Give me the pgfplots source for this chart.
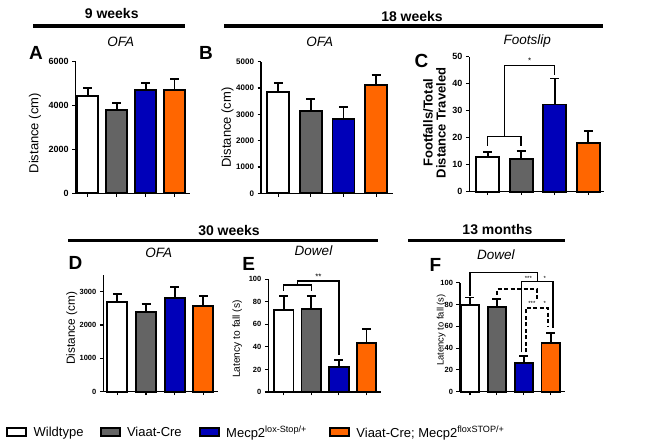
\documentclass[border=0pt]{standalone}
\usepackage{fontspec}
\setmainfont{Liberation Sans}
\usepackage{pgfplots}
\pgfplotsset{compat=1.18}
\definecolor{bgray}{RGB}{100,100,100}
\definecolor{bblue}{RGB}{0,0,185}
\definecolor{borange}{RGB}{255,102,0}
\newcommand{\fs}[1]{\fontsize{#1}{#1}\selectfont}
\pgfplotsset{
 panel/.style={
   scale only axis, ybar, ymin=0,
   axis x line*=bottom, axis y line*=left,
   axis line style={-, line width=1.3pt},
   xtick={0,1,2,3}, xticklabels={},
   tick align=outside, major tick length=3.5pt,
   every tick/.style={black, line width=1.1pt},
   scaled y ticks=false,
   /pgf/number format/assume math mode=true,
   /pgf/number format/1000 sep={},
   clip=false,
 },
 bar/.style={draw=black, line width=1.9pt, bar shift=0pt,
   error bars/y dir=plus, error bars/y explicit,
   error bars/error bar style={line width=1.8pt, black},
   error bars/error mark options={rotate=90, line width=1.8pt, mark size=4.5pt, black}},
}
\begin{document}
\begin{tikzpicture}
\path[use as bounding box] (0pt,0pt) rectangle (670pt,447pt);
% headers
\node[anchor=base, font=\bfseries\fs{14}] at (111.7pt,428.7pt) {9 weeks};
\draw[line width=3.5pt] (33.3pt,421pt) -- (185pt,421pt);
\node[anchor=base, font=\bfseries\fs{14}] at (412pt,425.3pt) {18 weeks};
\draw[line width=3.5pt] (224.3pt,421pt) -- (602.7pt,421pt);
\node[anchor=base, font=\bfseries\fs{14}] at (229pt,211pt) {30 weeks};
\draw[line width=3pt] (68.3pt,206pt) -- (378.3pt,206pt);
\node[anchor=base, font=\bfseries\fs{14}] at (497.5pt,212pt) {13 months};
\draw[line width=3pt] (408.3pt,206.3pt) -- (565pt,206.3pt);
% panel letters
\node[anchor=base, font=\bfseries\fs{19}] at (36pt,387pt) {A};
\node[anchor=base, font=\bfseries\fs{19}] at (206pt,387pt) {B};
\node[anchor=base, font=\bfseries\fs{19}] at (421.5pt,379pt) {C};
\node[anchor=base, font=\bfseries\fs{19}] at (75.5pt,177pt) {D};
\node[anchor=base, font=\bfseries\fs{19}] at (248.8pt,176.3pt) {E};
\node[anchor=base, font=\bfseries\fs{19}] at (435.3pt,175.3pt) {F};
% test titles
\node[anchor=base, font=\itshape\fs{13.5}] at (120.8pt,400.3pt) {OFA};
\node[anchor=base, font=\itshape\fs{13.5}] at (319.7pt,400.3pt) {OFA};
\node[anchor=base, font=\itshape\fs{13.5}] at (527.2pt,402pt) {Footslip};
\node[anchor=base, font=\itshape\fs{13.5}] at (158.8pt,189.7pt) {OFA};
\node[anchor=base, font=\itshape\fs{13.5}] at (313.5pt,191pt) {Dowel};
\node[anchor=base, font=\itshape\fs{13.5}] at (495.8pt,187pt) {Dowel};

% Panel A
\begin{axis}[panel, at={(75.7pt,253.7pt)}, anchor=south west,
  width=114.3pt, height=131.6pt, xmin=-0.424, xmax=3.534,
  ymax=6000, ytick={0,2000,4000,6000}, bar width=21pt,
  yticklabel style={font=\bfseries\fs{9}},
  ylabel={Distance (cm)},
  ylabel style={font=\fs{13}, at={(axis description cs:-0.356,0.456)}, anchor=center}]
\addplot[bar, fill=white] coordinates {(0,4440) +- (0,365)};
\addplot[bar, fill=bgray] coordinates {(1,3780) +- (0,330)};
\addplot[bar, fill=bblue] coordinates {(2,4710) +- (0,305)};
\addplot[bar, fill=borange] coordinates {(3,4710) +- (0,490)};
\end{axis}

% Panel B
\begin{axis}[panel, at={(261pt,253.7pt)}, anchor=south west,
  width=131.7pt, height=131.6pt, xmin=-0.53, xmax=3.51,
  ymax=5000, ytick={0,1000,2000,3000,4000,5000}, bar width=22pt,
  yticklabel style={font=\bfseries\fs{8}},
  ylabel={Distance (cm)},
  ylabel style={font=\fs{13}, at={(axis description cs:-0.255,0.5)}, anchor=center}]
\addplot[bar, fill=white] coordinates {(0,3860) +- (0,320)};
\addplot[bar, fill=bgray] coordinates {(1,3130) +- (0,440)};
\addplot[bar, fill=bblue] coordinates {(2,2835) +- (0,455)};
\addplot[bar, fill=borange] coordinates {(3,4100) +- (0,380)};
\end{axis}

% Panel C
\begin{axis}[panel, at={(469.3pt,255.3pt)}, anchor=south west,
  width=134.7pt, height=135pt, xmin=-0.55, xmax=3.47,
  ymax=50, ytick={0,10,20,30,40,50}, bar width=23pt,
  yticklabel style={font=\bfseries\fs{9}},
  ylabel={Footfalls/Total\\Distance Traveled},
  ylabel style={font=\bfseries\fs{13}, align=center, at={(axis description cs:-0.258,0.51)}, anchor=center}]
\addplot[bar, fill=white] coordinates {(0,13) +- (0,1.6)};
\addplot[bar, fill=bgray] coordinates {(1,12) +- (0,3)};
\addplot[bar, fill=bblue] coordinates {(2,32.3) +- (0,9.6)};
\addplot[bar, fill=borange] coordinates {(3,17.9) +- (0,4.6)};
\draw[line width=1.5pt] (axis cs:0,17) -- (axis cs:0,20.4) -- (axis cs:1,20.4) -- (axis cs:1,17);
\draw[line width=1.5pt] (axis cs:0.5,20.4) -- (axis cs:0.5,46.7) -- (axis cs:2,46.7) -- (axis cs:2,43.2);
\node[font=\fs{8}] at (axis cs:1.25,48.6) {*};
\end{axis}

% Panel D
\begin{axis}[panel, at={(103.3pt,55.3pt)}, anchor=south west,
  width=114.7pt, height=116.7pt, xmin=-0.49, xmax=3.51,
  ymax=3500, ytick={0,1000,2000,3000}, bar width=20pt,
  yticklabel style={font=\bfseries\fs{7.5}},
  ylabel={Distance (cm)},
  ylabel style={font=\fs{11.8}, at={(axis description cs:-0.275,0.543)}, anchor=center}]
\addplot[bar, fill=white] coordinates {(0,2680) +- (0,250)};
\addplot[bar, fill=bgray] coordinates {(1,2390) +- (0,250)};
\addplot[bar, fill=bblue] coordinates {(2,2800) +- (0,340)};
\addplot[bar, fill=borange] coordinates {(3,2580) +- (0,290)};
\end{axis}

% Panel E
\begin{axis}[panel, at={(268.3pt,55pt)}, anchor=south west,
  width=112.7pt, height=112.7pt, xmin=-0.56, xmax=3.53,
  ymax=100, ytick={0,20,40,60,80,100}, bar width=19.5pt,
  yticklabel style={font=\bfseries\fs{7.5}},
  ylabel={Latency to fall (s)},
  ylabel style={font=\fs{10.2}, at={(axis description cs:-0.275,0.47)}, anchor=center}]
\addplot[bar, fill=white] coordinates {(0,72.8) +- (0,12.1)};
\addplot[bar, fill=bgray] coordinates {(1,73.4) +- (0,11.8)};
\addplot[bar, fill=bblue] coordinates {(2,21.9) +- (0,6.8)};
\addplot[bar, fill=borange] coordinates {(3,43.8) +- (0,11.8)};
\draw[line width=1.5pt] (axis cs:0,90) -- (axis cs:0,95) -- (axis cs:1,95) -- (axis cs:1,90);
\draw[line width=1.5pt] (axis cs:0.5,95) -- (axis cs:0.5,98.5) -- (axis cs:2,98.5) -- (axis cs:2,32.8);
\node[font=\fs{8}] at (axis cs:1.26,102) {**};
\end{axis}

% Panel F
\begin{axis}[panel, at={(460pt,55.3pt)}, anchor=south west,
  width=105pt, height=109pt, xmin=-0.37, xmax=3.53,
  ymax=100, ytick={0,20,40,60,80,100}, bar width=18.5pt,
  yticklabel style={font=\bfseries\fs{7.5}},
  ylabel={Latency to fall (s)},
  ylabel style={font=\fs{9.4}, at={(axis description cs:-0.18,0.566)}, anchor=center},
  legend columns=4,
  legend image code/.code={\draw[#1] (0pt,-4pt) rectangle (19pt,4pt);},
  legend style={at={(axis description cs:-4.324,-0.3725)}, anchor=west,
    draw=none, fill=none, inner sep=0pt, font=\fs{13},
    nodes={inner sep=0pt},
    /tikz/column 1/.style={column sep=6.5pt},
    /tikz/column 2/.style={column sep=16pt},
    /tikz/column 3/.style={column sep=6.5pt},
    /tikz/column 4/.style={column sep=17pt},
    /tikz/column 5/.style={column sep=6.5pt},
    /tikz/column 6/.style={column sep=22pt},
    /tikz/column 7/.style={column sep=6.5pt}}]
\addplot[bar, fill=white, forget plot] coordinates {(0,79.5) +- (0,7)};
\addplot[bar, fill=bgray, forget plot] coordinates {(1,77.4) +- (0,7.9)};
\addplot[bar, fill=bblue, forget plot] coordinates {(2,26) +- (0,6.7)};
\addplot[bar, fill=borange, forget plot] coordinates {(3,45) +- (0,8.5)};
\draw[line width=1.4pt] (axis cs:0,88) -- (axis cs:0,109.5) -- (axis cs:2.5,109.5) -- (axis cs:2.5,101);
\draw[line width=1.4pt] (axis cs:1.92,36) -- (axis cs:1.92,101) -- (axis cs:3.08,101) -- (axis cs:3.08,58);
\draw[line width=1.9pt, dash pattern=on 4pt off 2.5pt] (axis cs:1,88.7) -- (axis cs:1,93.9) -- (axis cs:2.5,93.9) -- (axis cs:2.5,85);
\draw[line width=1.9pt, dash pattern=on 4pt off 2.5pt] (axis cs:2.08,36) -- (axis cs:2.08,77) -- (axis cs:2.9,77) -- (axis cs:2.9,60);
\node[font=\fs{6}] at (axis cs:2.17,104) {***};
\node[font=\fs{6}] at (axis cs:2.78,104) {*};
\node[font=\fs{6}] at (axis cs:2.3,81.2) {***};
\node[font=\fs{6}] at (axis cs:2.78,81.2) {*};
\addlegendimage{fill=white, draw=black, line width=2pt}
\addlegendentry{Wildtype}
\addlegendimage{fill=bgray, draw=black, line width=2pt}
\addlegendentry{Viaat-Cre}
\addlegendimage{fill=bblue, draw=black, line width=2pt}
\addlegendentry{Mecp2\textsuperscript{lox-Stop/+}}
\addlegendimage{fill=borange, draw=black, line width=2pt}
\addlegendentry{Viaat-Cre; Mecp2\textsuperscript{floxSTOP/+}}
\end{axis}
\end{tikzpicture}
\end{document}
